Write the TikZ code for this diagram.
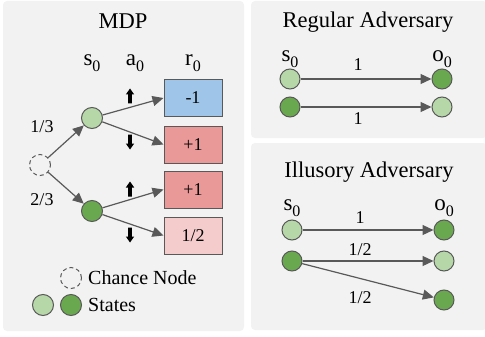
\documentclass[tikz,border=0pt]{standalone}
\usepackage{fontspec}
\setmainfont{Liberation Serif}
\usetikzlibrary{arrows.meta}

\definecolor{panelbg}{HTML}{F2F2F2}
\definecolor{edgegray}{HTML}{595959}
\definecolor{lightstate}{HTML}{B6D7A8}
\definecolor{darkstate}{HTML}{6AA84F}
\definecolor{rewblue}{HTML}{9FC5E8}
\definecolor{rewred}{HTML}{EA9999}
\definecolor{rewpink}{HTML}{F4CCCC}

\newcommand\subz[1]{#1\raisebox{-0.25em}{\fontsize{16}{18}\selectfont 0}}

\tikzset{
  panel/.style={fill=panelbg, draw=none, rounded corners=4pt},
  title/.style={font=\fontsize{22.5}{26}\selectfont, inner sep=0pt},
  head/.style={font=\fontsize{23}{27}\selectfont, inner sep=0pt},
  lab/.style={font=\fontsize{18}{21}\selectfont, inner sep=0pt},
  legend/.style={font=\fontsize{20}{23}\selectfont, inner sep=0pt, anchor=west},
  state/.style={circle, draw=edgegray, line width=1pt, minimum size=21pt, inner sep=0pt},
  lstate/.style={state, fill=lightstate},
  dstate/.style={state, fill=darkstate},
  chance/.style={circle, draw=edgegray, dashed, dash pattern=on 4pt off 3pt, line width=1pt, fill=panelbg, minimum size=21pt, inner sep=0pt},
  reward/.style={rectangle, draw=edgegray, line width=1pt, minimum width=58pt, minimum height=37pt, inner sep=0pt, font=\fontsize{18}{21}\selectfont},
  flow/.style={draw=edgegray, line width=1.2pt, -{Triangle[length=11pt,width=10pt]}},
  upicon/.pic={\fill[black] (-1.9,7.5) -- (-1.9,-1.5) -- (-4.2,-1.5) -- (0,-7.5) -- (4.2,-1.5) -- (1.9,-1.5) -- (1.9,7.5) -- cycle;},
  downicon/.pic={\fill[black] (-1.9,-7.5) -- (-1.9,1.5) -- (-4.2,1.5) -- (0,7.5) -- (4.2,1.5) -- (1.9,1.5) -- (1.9,-7.5) -- cycle;}
}

\begin{document}
\begin{tikzpicture}[x=1pt,y=-1pt]
\useasboundingbox (0,0) rectangle (485,337);

% background panels
\path[panel] (3,1) rectangle (244,331);
\path[panel] (251,1) rectangle (487,138);
\path[panel] (251,143) rectangle (487,330);

% ---------------- MDP ----------------
\node[title] (mdptitle) at (123,21) {MDP};
\node[head] (hs) at (92,63) {\subz{s}};
\node[head] (ha) at (135,63) {\subz{a}};
\node[head] (hr) at (193,63) {\subz{r}};

\node[chance] (c) at (40,165) {};
\node[lstate] (s1) at (92,118) {};
\node[dstate] (s2) at (92,211) {};

\node[reward, fill=rewblue] (r1) at (193,98) {-1};
\node[reward, fill=rewred] (r2) at (193,144.5) {+1};
\node[reward, fill=rewred] (r3) at (193,189.5) {+1};
\node[reward, fill=rewpink] (r4) at (193,235.5) {1/2};

\draw[flow] (c) -- (s1);
\draw[flow] (c) -- (s2);
\draw[flow] (s1) -- (r1.west);
\draw[flow] (s1) -- (r2.west);
\draw[flow] (s2) -- (r3.west);
\draw[flow] (s2) -- (r4.west);

\node[lab] (p1) at (42,127) {1/3};
\node[lab] (p2) at (42,200) {2/3};

\pic at (130,96) {upicon};
\pic at (130,142) {downicon};
\pic at (130,189) {upicon};
\pic at (130,235) {downicon};

% legend
\node[chance] (lc) at (71,278) {};
\node[legend] (lct) at (88,278) {Chance Node};
\node[lstate] (ll) at (43,305) {};
\node[dstate] (ld) at (71,305) {};
\node[legend] (lst) at (88,305) {States};

% ---------------- Regular Adversary ----------------
\node[title] (regtitle) at (368,22) {Regular Adversary};
\node[head] (rs) at (290,59) {\subz{s}};
\node[head] (ro) at (442,59) {\subz{o}};
\node[lstate, minimum size=20pt] (ra1) at (290,79) {};
\node[dstate, minimum size=20pt] (ra2) at (290,107) {};
\node[dstate, minimum size=20pt] (rb1) at (442,79) {};
\node[lstate, minimum size=20pt] (rb2) at (442,107) {};
\draw[flow] (ra1) -- (rb1);
\draw[flow] (ra2) -- (rb2);
\node[lab] (rl1) at (358,65) {1};
\node[lab] (rl2) at (358,119) {1};

% ---------------- Illusory Adversary ----------------
\node[title] (illtitle) at (369,172) {Illusory Adversary};
\node[head] (is) at (292,208) {\subz{s}};
\node[head] (io) at (444,208) {\subz{o}};
\node[lstate, minimum size=20pt] (ia1) at (292,230) {};
\node[dstate, minimum size=20pt] (ia2) at (292,261) {};
\node[dstate, minimum size=20pt] (ib1) at (444,230) {};
\node[lstate, minimum size=20pt] (ib2) at (444,261) {};
\node[dstate, minimum size=20pt] (ib3) at (444,300) {};
\draw[flow] (ia1) -- (ib1);
\draw[flow] (ia2) -- (ib2);
\draw[flow] (ia2) -- (ib3);
\node[lab] (il1) at (360,218) {1};
\node[lab] (il2) at (360,250) {1/2};
\node[lab] (il3) at (360,298) {1/2};
\end{tikzpicture}
\end{document}
